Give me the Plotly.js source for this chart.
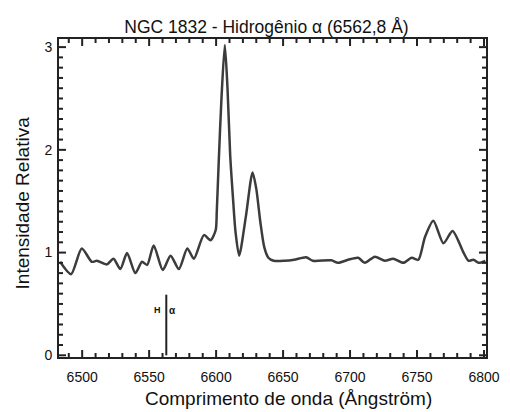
<!DOCTYPE html>
<html>
<head>
<meta charset="utf-8">
<script src="https://cdn.plot.ly/plotly-3.0.1.min.js"></script>
<style>html,body{margin:0;padding:0;background:#fff;}#chart{width:510px;height:412px;}</style>
</head>
<body>
<div id="chart"></div>
<script>
const wavelength = [6483.5,6491.7,6499.7,6507.2,6511,6518.5,6523.4,6528.5,6533.5,6539.7,6544.7,6548.5,6553.4,6560.2,6566,6572.2,6578.5,6583.4,6590.9,6595.9,6599.7,6600.5,6602,6604,6606.5,6608.5,6610.5,6612.5,6614.5,6617.2,6622.2,6627.2,6630,6633,6636,6639,6643,6651,6658.2,6667.2,6672.2,6686,6691,6698.5,6706,6711,6718.5,6726,6732.2,6739.7,6746,6751,6755.9,6762.2,6769.7,6776.5,6784.7,6788.5,6792.2,6796,6801];
const intensity = [0.91,0.79,1.04,0.91,0.92,0.885,0.94,0.84,0.995,0.80,0.91,0.88,1.07,0.83,0.97,0.84,1.04,0.94,1.17,1.12,1.22,1.4,1.9,2.5,3.02,2.6,1.95,1.55,1.2,0.97,1.35,1.78,1.62,1.3,1.05,0.95,0.92,0.92,0.93,0.955,0.92,0.925,0.90,0.93,0.95,0.90,0.96,0.92,0.94,0.90,0.95,0.93,1.15,1.31,1.09,1.21,1.0,0.92,0.93,0.90,0.92];
const halphaX = [6562.8, 6562.8];
const halphaY = [0, 0.59];
const halphaLabelY = 0.44;
const xTickVals = [6500,6550,6600,6650,6700,6750,6800];
const xMinorVals = [6490,6510,6520,6530,6540,6560,6570,6580,6590,6610,6620,6630,6640,6660,6670,6680,6690,6710,6720,6730,6740,6760,6770,6780,6790];
const yTickVals = [0,1,2,3];
const yMinorVals = [0.1,0.2,0.3,0.4,0.5,0.6,0.7,0.8,0.9,1.1,1.2,1.3,1.4,1.5,1.6,1.7,1.8,1.9,2.1,2.2,2.3,2.4,2.5,2.6,2.7,2.8,2.9];

const FONT = 'Liberation Sans, Arial, sans-serif';
const TICKCOL = '#222';
const MAJOR = 7, MINOR = 4;

// inside tick marks on all four sides, placed by axis value (x/y) and pixel length
const shapes = [];
function xTick(v, len) {
  shapes.push({type: 'line', xref: 'x', yref: 'paper', ysizemode: 'pixel', yanchor: 0, x0: v, x1: v, y0: 0, y1: len,
               line: {color: TICKCOL, width: 2}, layer: 'above'});
  shapes.push({type: 'line', xref: 'x', yref: 'paper', ysizemode: 'pixel', yanchor: 1, x0: v, x1: v, y0: 0, y1: -len,
               line: {color: TICKCOL, width: 2}, layer: 'above'});
}
function yTick(v, len) {
  shapes.push({type: 'line', yref: 'y', xref: 'paper', xsizemode: 'pixel', xanchor: 0, y0: v, y1: v, x0: 0, x1: len,
               line: {color: TICKCOL, width: 2}, layer: 'above'});
  shapes.push({type: 'line', yref: 'y', xref: 'paper', xsizemode: 'pixel', xanchor: 1, y0: v, y1: v, x0: 0, x1: -len,
               line: {color: TICKCOL, width: 2}, layer: 'above'});
}
xTickVals.forEach(v => xTick(v, MAJOR));
xMinorVals.forEach(v => xTick(v, MINOR));
yTickVals.forEach(v => yTick(v, MAJOR));
yMinorVals.forEach(v => yTick(v, MINOR));

const axisCommon = {
  showline: true, linecolor: TICKCOL, linewidth: 2, mirror: true,
  ticks: '', showgrid: false, zeroline: false,
  tickfont: {family: FONT, size: 14, color: '#111'}
};

const data = [
  {x: wavelength, y: intensity, type: 'scatter', mode: 'lines',
   line: {color: '#3c3c3c', width: 2.5, shape: 'spline', smoothing: 0.7}, hoverinfo: 'skip'},
  {x: halphaX, y: halphaY, type: 'scatter', mode: 'lines',
   line: {color: '#222', width: 2}, hoverinfo: 'skip'}
];

const layout = {
  width: 510, height: 412,
  margin: {l: 59, r: 24, t: 38.5, b: 55.3},
  showlegend: false,
  title: {text: 'NGC 1832 - Hidrogênio α (6562,8 Å)', x: 0.5225, xanchor: 'center', y: 0.935, yanchor: 'middle',
          font: {size: 17.5, color: '#111', family: FONT}},
  xaxis: Object.assign({}, axisCommon, {
    range: [6482.7, 6801.5], tickmode: 'array', tickvals: xTickVals,
    ticklabelstandoff: 6
  }),
  yaxis: Object.assign({}, axisCommon, {
    range: [-0.0165, 3.079], tickmode: 'array', tickvals: yTickVals,
    ticklabelstandoff: 2
  }),
  shapes: shapes,
  annotations: [
    {x: halphaX[0], y: halphaLabelY, xref: 'x', yref: 'y', text: '<b>H</b>', showarrow: false,
     xshift: -8.5, font: {size: 9, color: '#111', family: FONT}},
    {x: halphaX[0], y: halphaLabelY, xref: 'x', yref: 'y', text: '<b>α</b>', showarrow: false,
     xshift: 6.5, font: {size: 10, color: '#111', family: FONT}},
    {x: 0.5375, y: -0.1298, xref: 'paper', yref: 'paper', text: 'Comprimento de onda (Ångström)', showarrow: false,
     xanchor: 'center', yanchor: 'middle', font: {size: 19, color: '#111', family: FONT}},
    {x: -0.0867, y: 0.486, xref: 'paper', yref: 'paper', text: 'Intensidade Relativa', showarrow: false, textangle: -90,
     xanchor: 'center', yanchor: 'middle', font: {size: 19, color: '#111', family: FONT}}
  ]
};

Plotly.newPlot('chart', data, layout, {staticPlot: true, displayModeBar: false});
</script>
</body>
</html>
